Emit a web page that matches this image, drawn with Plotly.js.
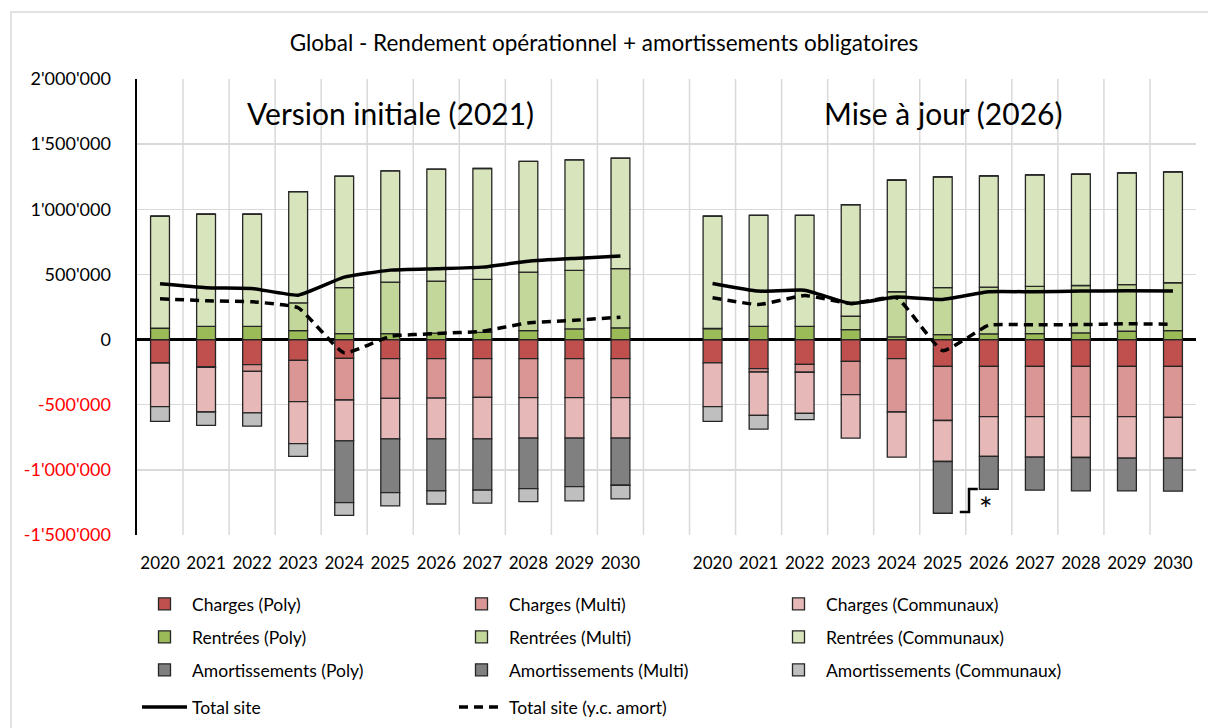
<!DOCTYPE html>
<html>
<head>
<meta charset="utf-8">
<script src="https://cdn.plot.ly/plotly-3.0.1.min.js"></script>
<style>html,body{margin:0;padding:0;background:#fff;}#chart{width:1208px;height:728px;}</style>
</head>
<body>
<div id="chart"></div>
<script>
// ---- Data (values in CHF) ----
const years = ['2020','2021','2022','2023','2024','2025','2026','2027','2028','2029','2030'];
const groupLabels = ['Version initiale (2021)', 'Mise à jour (2026)'];

// Version initiale (2021)
const rentreesPolyA   = [87000, 102000, 102000, 69000, 46000, 45000, 50000, 55000, 69000, 82000, 90000];
const rentreesMultiA  = [0, 0, 0, 213000, 352000, 396000, 399000, 407000, 449000, 449000, 454000];
const rentreesCommA   = [861000, 860000, 860000, 854000, 856000, 854000, 859000, 851000, 849000, 848000, 848000];
const chargesPolyA    = [-180000, -209000, -192000, -159000, -144000, -146000, -146000, -146000, -146000, -146000, -146000];
const chargesMultiA   = [0, -5000, -52000, -318000, -320000, -305000, -303000, -298000, -300000, -300000, -300000];
const chargesCommA    = [-335000, -342000, -318000, -321000, -313000, -311000, -313000, -318000, -310000, -310000, -310000];
const amortPolyA      = [0, 0, 0, 0, 0, 0, 0, 0, 0, 0, 0];
const amortMultiA     = [0, 0, 0, 0, -474000, -413000, -400000, -394000, -388000, -372000, -362000];
const amortCommA      = [-113000, -103000, -102000, -99000, -98000, -102000, -100000, -100000, -100000, -110000, -105000];
const totalSiteA      = [428000, 398000, 392000, 341000, 479000, 533000, 544000, 556000, 602000, 623000, 641000];
const totalAmortA     = [313000, 298000, 290000, 244000, -102000, 25000, 46000, 64000, 128000, 148000, 172000];

// Mise à jour (2026)
const rentreesPolyB   = [85000, 102000, 102000, 77000, 21000, 38000, 44000, 46000, 51000, 64000, 69000];
const rentreesMultiB  = [0, 0, 0, 102000, 346000, 360000, 359000, 362000, 364000, 357000, 367000];
const rentreesCommB   = [863000, 852000, 852000, 857000, 856000, 850000, 853000, 856000, 854000, 858000, 851000];
const chargesPolyB    = [-179000, -223000, -190000, -167000, -146000, -205000, -205000, -205000, -205000, -205000, -205000];
const chargesMultiB   = [0, -26000, -61000, -256000, -410000, -416000, -387000, -387000, -387000, -387000, -392000];
const chargesCommB    = [-336000, -333000, -316000, -333000, -347000, -315000, -305000, -311000, -313000, -318000, -313000];
const amortPolyB      = [0, 0, 0, 0, 0, 0, 0, 0, 0, 0, 0];
const amortMultiB     = [0, 0, 0, 0, 0, -397000, -252000, -253000, -257000, -252000, -254000];
const amortCommB      = [-113000, -105000, -48000, 0, 0, 0, 0, 0, 0, 0, 0];
const totalSiteB      = [431000, 372000, 379000, 277000, 326000, 308000, 367000, 367000, 372000, 374000, 372000];
const totalAmortB     = [321000, 269000, 338000, 277000, 321000, -85000, 110000, 113000, 115000, 121000, 118000];

const yTickVals = [-1500000, -1000000, -500000, 0, 500000, 1000000, 1500000, 2000000];
const yTickText = ["-1'500'000", "-1'000'000", "-500'000", "0", "500'000", "1'000'000", "1'500'000", "2'000'000"];

// ---- Build positions: group A at 0..10, gap at 11, group B at 12..22 ----
const n = years.length;
const xA = years.map((_, i) => i);
const xB = years.map((_, i) => i + n + 1);
const xAll = xA.concat([n]).concat(xB);
const join = (a, b) => a.concat([null]).concat(b);

const FONT = 'Lato, "Open Sans", sans-serif';
const edge = {color: '#262626', width: 1.3};

function bar(name, a, b, color, legend) {
  return {type: 'bar', name: name, x: xAll, y: join(a, b), marker: {color: color, line: edge},
          width: 0.41, legend: legend, hoverinfo: 'name+y'};
}

const traces = [
  bar('Charges (Poly)', chargesPolyA, chargesPolyB, '#C0504D', 'legend'),
  bar('Charges (Multi)', chargesMultiA, chargesMultiB, '#DA9694', 'legend'),
  bar('Charges (Communaux)', chargesCommA, chargesCommB, '#E6B8B7', 'legend'),
  bar('Rentrées (Poly)', rentreesPolyA, rentreesPolyB, '#9BBB59', 'legend2'),
  bar('Rentrées (Multi)', rentreesMultiA, rentreesMultiB, '#C4D79B', 'legend2'),
  bar('Rentrées (Communaux)', rentreesCommA, rentreesCommB, '#D8E4BC', 'legend2'),
  bar('Amortissements (Poly)', amortPolyA, amortPolyB, '#808080', 'legend3'),
  bar('Amortissements (Multi)', amortMultiA, amortMultiB, '#808080', 'legend3'),
  bar('Amortissements (Communaux)', amortCommA, amortCommB, '#BFBFBF', 'legend3'),
  {type: 'scatter', mode: 'lines', name: 'Total site', x: xAll, y: join(totalSiteA, totalSiteB),
   line: {color: '#000', width: 3.5, shape: 'spline', smoothing: 0.4}, connectgaps: false, legend: 'legend4'},
  {type: 'scatter', mode: 'lines', name: 'Total site (y.c. amort)', x: xAll, y: join(totalAmortA, totalAmortB),
   line: {color: '#000', width: 3.5, dash: '9px,6px', shape: 'spline', smoothing: 0.4}, connectgaps: false, legend: 'legend4'}
];

// plot area in pixels
const L = 137, R = 12, T = 79, B = 193, W = 1208, H = 728;
const pw = W - L - R, ph = H - T - B;
const px = v => (v - L) / pw;
const py = v => (H - B - v) / ph;

const boundaries = [];
for (let i = 0; i <= xAll.length; i++) boundaries.push(i - 0.5);

function legendRow(yPix) {
  return {orientation: 'h', x: px(137), xanchor: 'left', y: py(yPix), yanchor: 'middle',
          entrywidth: 257, entrywidthmode: 'pixels', itemwidth: 45,
          font: {family: FONT, size: 17.5, color: '#000'}, bgcolor: 'rgba(0,0,0,0)', traceorder: 'normal'};
}

const layout = {
  width: W, height: H,
  margin: {l: L, r: R, t: T, b: B, pad: 0, autoexpand: false},
  paper_bgcolor: '#fff', plot_bgcolor: '#fff',
  barmode: 'relative',
  font: {family: FONT, size: 17, color: '#000'},
  title: {text: 'Global - Rendement opérationnel + amortissements obligatoires',
          x: 0.5, xref: 'container', xanchor: 'center', y: 1 - 43 / H, yref: 'container', yanchor: 'middle',
          font: {family: FONT, size: 22.5, color: '#000'}},
  xaxis: {range: [-0.5, xAll.length - 0.5], tickmode: 'array',
          tickvals: xA.concat(xB), ticktext: years.concat(years),
          showgrid: false, zeroline: false, showline: false, ticks: '', automargin: false,
          ticklabelstandoff: 16, tickfont: {family: FONT, size: 17, color: '#000'}, fixedrange: true},
  xaxis2: {overlaying: 'x', anchor: 'free', position: 1.5 / 3.5, range: [-0.5, xAll.length - 0.5],
           tickmode: 'array', tickvals: boundaries, ticks: 'outside', ticklen: 6, tickwidth: 2, tickcolor: '#000',
           showticklabels: false, showgrid: false, zeroline: false, showline: false},
  yaxis: {range: [-1500000, 2000000], tickmode: 'array', tickvals: yTickVals,
          ticktext: yTickText.map((t, i) => yTickVals[i] < 0 ? '<span style="color:#FF0000">' + t + '</span>' : t),
          showgrid: true, gridcolor: '#D9D9D9', gridwidth: 1.5,
          zeroline: true, zerolinecolor: '#000', zerolinewidth: 2.5,
          showline: true, linecolor: '#000', linewidth: 2.5, ticks: '', automargin: false,
          ticklabelstandoff: 20, tickfont: {family: FONT, size: 18, color: '#000'}, fixedrange: true},
  legend: legendRow(604),
  legend2: legendRow(637),
  legend3: legendRow(670),
  legend4: legendRow(707),
  shapes: [
    // vertical gridlines between categories
    ...boundaries.slice(1, -1).map(b => ({type: 'line', xref: 'x', yref: 'paper', x0: b, x1: b, y0: 0, y1: 1,
      line: {color: '#D9D9D9', width: 1.5}, layer: 'below'})),
    // chart border
    {type: 'rect', xref: 'paper', yref: 'paper', x0: px(11), x1: px(1230), y0: py(750), y1: py(12),
     line: {color: '#D9D9D9', width: 1.5}, layer: 'below'},
    // bracket next to 2025 (update)
    {type: 'path', xref: 'x', yref: 'y',
     path: 'M 17.37,-1323000 L 17.57,-1323000 L 17.57,-1147000 L 17.76,-1147000',
     line: {color: '#000', width: 2.5}}
  ],
  annotations: [
    {x: 5, y: 1740000, xref: 'x', yref: 'y', text: groupLabels[0], showarrow: false,
     font: {family: FONT, size: 30, color: '#000'}, xanchor: 'center', yanchor: 'middle'},
    {x: 17, y: 1740000, xref: 'x', yref: 'y', text: groupLabels[1], showarrow: false,
     font: {family: FONT, size: 30, color: '#000'}, xanchor: 'center', yanchor: 'middle'},
    {x: 17.74, y: -1300000, xref: 'x', yref: 'y', text: '*', showarrow: false,
     font: {family: FONT, size: 32, color: '#000'}, xanchor: 'left', yanchor: 'middle'}
  ],
  showlegend: true
};

Plotly.newPlot('chart', traces, layout, {displayModeBar: false, staticPlot: true});
</script>
</body>
</html>
